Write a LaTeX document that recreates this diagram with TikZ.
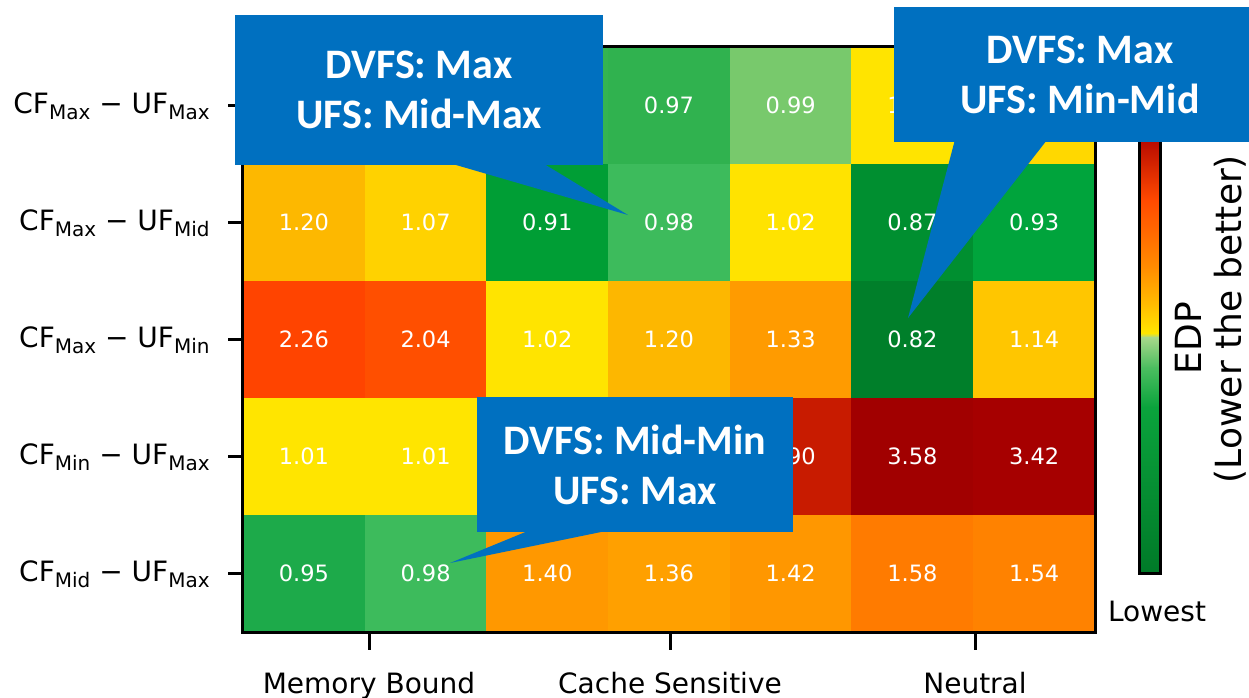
\documentclass[tikz,border=0pt]{standalone}
\usepackage{fontspec}
\setmainfont{DejaVu Sans}
\newfontfamily\calloutfont{Carlito}
\usetikzlibrary{calc}

% heat-map cell colours, row by row
\definecolor{rAa}{HTML}{FFD000}\definecolor{rAb}{HTML}{FFD000}\definecolor{rAc}{HTML}{34B450}
\definecolor{rAd}{HTML}{30B24F}\definecolor{rAe}{HTML}{78C96C}\definecolor{rAf}{HTML}{FFE400}
\definecolor{rAg}{HTML}{FFD800}
\definecolor{rBa}{HTML}{FDB800}\definecolor{rBb}{HTML}{FFD200}\definecolor{rBc}{HTML}{009E35}
\definecolor{rBd}{HTML}{3DBB5C}\definecolor{rBe}{HTML}{FFE300}\definecolor{rBf}{HTML}{008F30}
\definecolor{rBg}{HTML}{00A43C}
\definecolor{rCa}{HTML}{FF4400}\definecolor{rCb}{HTML}{FF4F00}\definecolor{rCc}{HTML}{FFE400}
\definecolor{rCd}{HTML}{FDB700}\definecolor{rCe}{HTML}{FF9B00}\definecolor{rCf}{HTML}{007F2A}
\definecolor{rCg}{HTML}{FFC600}
\definecolor{rDa}{HTML}{FFE500}\definecolor{rDb}{HTML}{FFE500}\definecolor{rDc}{HTML}{FFB000}
\definecolor{rDd}{HTML}{FFA000}\definecolor{rDe}{HTML}{C81B00}\definecolor{rDf}{HTML}{A10000}
\definecolor{rDg}{HTML}{A60000}
\definecolor{rEa}{HTML}{1DAA4A}\definecolor{rEb}{HTML}{3DBB5C}\definecolor{rEc}{HTML}{FF9800}
\definecolor{rEd}{HTML}{FFA000}\definecolor{rEe}{HTML}{FF9700}\definecolor{rEf}{HTML}{FF7B00}
\definecolor{rEg}{HTML}{FF8200}
\definecolor{cblue}{HTML}{0070C0}

\newcommand{\lowsub}[1]{\raisebox{-0.22em}{\fontsize{20}{20}\selectfont #1}}

\tikzset{
  cell/.style={inner sep=0pt, minimum width=121.71pt, minimum height=117pt,
    text=white, font=\fontsize{22}{26}\selectfont},
  ylab/.style={anchor=base east, inner sep=0pt, font=\fontsize{28}{30}\selectfont},
  xlab/.style={anchor=base, inner sep=0pt, font=\fontsize{28}{30}\selectfont},
  tickmark/.style={line width=3pt},
  callout/.style={fill=cblue, text=white, inner sep=0pt, align=center,
    font=\calloutfont\bfseries\fontsize{42}{50}\selectfont},
  cbarlab/.style={rotate=90, inner sep=0pt, font=\fontsize{36}{40}\selectfont}
}

\begin{document}
\begin{tikzpicture}[x=1pt,y=-1pt]
\useasboundingbox (0,0) rectangle (1249,697);
\clip (0,0) rectangle (1249,697);

% heat-map cells
\foreach \r/\rl in {1/A,2/B,3/C,4/D,5/E}{
  \foreach \c/\cl in {1/a,2/b,3/c,4/d,5/e,6/f,7/g}{
    \node[cell, fill=r\rl\cl, draw=r\rl\cl, line width=0.4pt]
      (cell-\r-\c) at ({243+(\c-0.5)*121.71},{47+(\r-0.5)*117}) {};
  }
}

% values
\foreach \r/\c/\v in {
  1/4/0.97, 1/5/0.99, 1/6/1.05,
  2/1/1.20, 2/2/1.07, 2/3/0.91, 2/4/0.98, 2/5/1.02, 2/6/0.87, 2/7/0.93,
  3/1/2.26, 3/2/2.04, 3/3/1.02, 3/4/1.20, 3/5/1.33, 3/6/0.82, 3/7/1.14,
  4/1/1.01, 4/2/1.01, 4/5/2.90, 4/6/3.58, 4/7/3.42,
  5/1/0.95, 5/2/0.98, 5/3/1.40, 5/4/1.36, 5/5/1.42, 5/6/1.58, 5/7/1.54}{
  \node[text=white, font=\fontsize{22.5}{26}\selectfont] (val-\r-\c) at (cell-\r-\c.center) {\v};
}

% frame
\draw[line width=3pt] (cell-1-1.north west) rectangle (cell-5-7.south east);

% y ticks and labels
\foreach \r/\a/\b in {1/Max/Max, 2/Max/Mid, 3/Max/Min, 4/Min/Max, 5/Mid/Max}{
  \draw[tickmark] (cell-\r-1.west) -- ++(-15,0) coordinate (yt-\r);
  \node[ylab] (ylab-\r) at ($(yt-\r)+(-18,8)$) {CF\lowsub{\a} − UF\lowsub{\b}};
}

% x ticks and labels
\coordinate (xt-1) at (369,632);
\coordinate (xt-2) at (670,632);
\coordinate (xt-3) at (975,632);
\foreach \i/\t in {1/Memory Bound, 2/Cache Sensitive, 3/Neutral}{
  \draw[tickmark] (xt-\i) -- ++(0,18) coordinate (xe-\i);
  \node[xlab] (xlab-\i) at ($(xe-\i)+(0,43)$) {\t};
}

% colour bar
\shade[top color={rgb,255:red,160;green,0;blue,0}, bottom color={rgb,255:red,184;green,10;blue,0}] (1139,60) rectangle (1160,140.5);
\shade[top color={rgb,255:red,184;green,10;blue,0}, bottom color={rgb,255:red,255;green,74;blue,0}] (1139,140) rectangle (1160,200.5);
\shade[top color={rgb,255:red,255;green,74;blue,0}, bottom color={rgb,255:red,255;green,140;blue,0}] (1139,200) rectangle (1160,267.5);
\shade[top color={rgb,255:red,255;green,140;blue,0}, bottom color={rgb,255:red,255;green,192;blue,0}] (1139,267) rectangle (1160,307.5);
\shade[top color={rgb,255:red,255;green,192;blue,0}, bottom color={rgb,255:red,255;green,230;blue,0}] (1139,307) rectangle (1160,333.5);
\shade[top color={rgb,255:red,255;green,230;blue,0}, bottom color={rgb,255:red,168;green,216;blue,138}] (1139,333) rectangle (1160,337.5);
\shade[top color={rgb,255:red,168;green,216;blue,138}, bottom color={rgb,255:red,76;green,190;blue,96}] (1139,337) rectangle (1160,367.5);
\shade[top color={rgb,255:red,76;green,190;blue,96}, bottom color={rgb,255:red,10;green,163;blue,60}] (1139,367) rectangle (1160,407.5);
\shade[top color={rgb,255:red,10;green,163;blue,60}, bottom color={rgb,255:red,0;green,122;blue,40}] (1139,407) rectangle (1160,573);
\draw[line width=3pt] (1139,60) rectangle (1160,573);

\node[cbarlab] (cbar-edp) at (1188,338) {EDP};
\node[cbarlab] (cbar-note) at (1230,319) {(Lower the better)};
\node[font=\fontsize{28}{30}\selectfont] (cbar-low) at (1157,611) {Lowest};

% callouts
\node[callout, minimum width=368pt, minimum height=150pt] (co-1) at (419,90)
  {DVFS: Max\\UFS: Mid-Max};
\coordinate (tip-1) at (628,215);
\fill[cblue] ([xshift=215pt,yshift=2pt]co-1.south west) -- (tip-1)
  -- ([xshift=308pt,yshift=2pt]co-1.south west) -- cycle;

\node[callout, minimum width=372pt, minimum height=135pt] (co-2) at (1080,74.5)
  {DVFS: Max\\UFS: Min-Mid};
\coordinate (tip-2) at (908,318);
\fill[cblue] ([xshift=61pt,yshift=2pt]co-2.south west) -- (tip-2)
  -- ([xshift=153pt,yshift=2pt]co-2.south west) -- cycle;

\node[callout, minimum width=316pt, minimum height=135pt] (co-3) at (635,464.5)
  {DVFS: Mid-Min\\UFS: Max};
\coordinate (tip-3) at (450,563);
\fill[cblue] ([xshift=53pt,yshift=2pt]co-3.south west) -- (tip-3)
  -- ([xshift=133pt,yshift=2pt]co-3.south west) -- cycle;
\end{tikzpicture}
\end{document}
